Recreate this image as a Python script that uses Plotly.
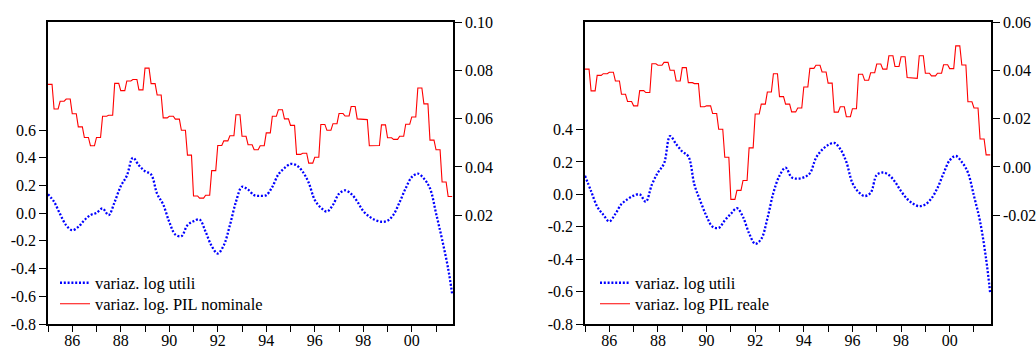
import pandas as pd
import plotly.graph_objects as go

# ---- data -------------------------------------------------------------
# quarterly GDP growth (repeated over the months of each quarter)
quarters = pd.period_range("1985Q1", "2001Q3", freq="Q")
# monthly profit growth, sampled every third month plus the last month
months = pd.period_range("1985-01", "2001-09", freq="M")
util_dates = list(months[::3]) + [months[-1]]

utili_nom = [0.137, 0.082, -0.007, -0.087, -0.123, -0.099, -0.05, -0.014, 0.002, 0.034,
             -0.014, 0.082, 0.195, 0.27, 0.40, 0.345, 0.303, 0.28, 0.14, 0.063,
             -0.063, -0.154, -0.166, -0.087, -0.058, -0.046, -0.135, -0.238, -0.291, -0.231,
             -0.087, 0.082, 0.19, 0.17, 0.13, 0.125, 0.13, 0.19, 0.28, 0.325,
             0.355, 0.345, 0.30, 0.22, 0.095, 0.04, 0.012, 0.06, 0.14, 0.165,
             0.14, 0.085, 0.015, -0.025, -0.05, -0.062, -0.055, -0.01, 0.08, 0.18,
             0.26, 0.285, 0.25, 0.18, 0.0, -0.19, -0.40, -0.585]

pil_nominale = [0.0742, 0.064, 0.0672, 0.0681, 0.062, 0.0566, 0.0522, 0.0488, 0.0522, 0.061,
                0.0614, 0.0746, 0.0716, 0.0756, 0.0762, 0.0719, 0.0809, 0.0745, 0.0698, 0.0603,
                0.061, 0.0598, 0.0552, 0.0449, 0.028, 0.0271, 0.0283, 0.0385, 0.0489, 0.0508,
                0.0529, 0.0616, 0.0527, 0.0492, 0.0471, 0.0488, 0.0541, 0.061, 0.0637, 0.0599,
                0.0572, 0.0452, 0.0457, 0.0416, 0.044, 0.0576, 0.0552, 0.0579, 0.0621, 0.0611,
                0.065, 0.0599, 0.0596, 0.0488, 0.0489, 0.0574, 0.0521, 0.0514, 0.0527, 0.0577,
                0.0607, 0.0727, 0.0661, 0.0511, 0.0471, 0.0338, 0.0278]

utili_real = [0.115, 0.02, -0.075, -0.125, -0.167, -0.12, -0.06, -0.03, -0.008, 0.0,
              -0.045, 0.06, 0.135, 0.19, 0.36, 0.31, 0.265, 0.235, 0.06, -0.043,
              -0.135, -0.2, -0.207, -0.16, -0.12, -0.085, -0.14, -0.24, -0.305, -0.275,
              -0.15, 0.01, 0.115, 0.165, 0.105, 0.097, 0.105, 0.13, 0.225, 0.275,
              0.305, 0.318, 0.28, 0.2, 0.07, 0.015, -0.01, 0.01, 0.12, 0.135,
              0.12, 0.078, 0.02, -0.028, -0.058, -0.073, -0.062, -0.025, 0.04, 0.13,
              0.21, 0.237, 0.2, 0.135, -0.01, -0.167, -0.4, -0.61]

pil_reale = [0.0405, 0.0315, 0.0379, 0.0386, 0.0392, 0.0356, 0.0301, 0.0271, 0.0253, 0.0316,
             0.0308, 0.0427, 0.0421, 0.0433, 0.040, 0.0356, 0.0411, 0.0349, 0.0345, 0.0249,
             0.0253, 0.0221, 0.0156, 0.004, -0.0134, -0.0097, -0.0056, 0.0079, 0.0219, 0.026,
             0.031, 0.0386, 0.0291, 0.026, 0.0228, 0.0244, 0.0331, 0.0408, 0.0421, 0.0393,
             0.0347, 0.0227, 0.0249, 0.0208, 0.0241, 0.0384, 0.0359, 0.039, 0.0426, 0.0405,
             0.046, 0.0416, 0.0456, 0.037, 0.0367, 0.046, 0.0388, 0.0377, 0.0388, 0.0423,
             0.0407, 0.0501, 0.0422, 0.027, 0.0244, 0.0116, 0.005]

left_ticks_1 = [-0.8, -0.6, -0.4, -0.2, 0.0, 0.2, 0.4, 0.6]
right_ticks_1 = [0.02, 0.04, 0.06, 0.08, 0.10]
left_ticks_2 = [-0.8, -0.6, -0.4, -0.2, 0.0, 0.2, 0.4]
right_ticks_2 = [-0.02, 0.00, 0.02, 0.04, 0.06]
years = list(range(1985, 2002))
year_labels = [f"{y % 100:02d}" if y % 2 == 0 else "" for y in years]


def decimal_year(p):
    return p.year + (p.month - 1) / 12


util_x = [decimal_year(p) for p in util_dates]

# each quarterly value is held for the three months of its quarter
step_x, step_nom, step_real = [], [], []
for q, vn, vr in zip(quarters, pil_nominale, pil_reale):
    t0 = decimal_year(q.asfreq("M", how="start"))
    step_x += [t0, t0 + 2 / 12]
    step_nom += [vn, vn]
    step_real += [vr, vr]

# ---- figure -----------------------------------------------------------
W, H = 1036, 349
FONT = dict(family="Liberation Serif", size=16, color="black")
BLUE = "#0000FF"
RED = "#FF0000"
DOTS = dict(color=BLUE, width=2.3, dash="2px,1.8px", shape="spline", smoothing=1.0)

fig = go.Figure()
fig.add_trace(go.Scatter(x=util_x, y=utili_nom, mode="lines", line=DOTS,
                         name="variaz. log utili", xaxis="x", yaxis="y", legend="legend"))
fig.add_trace(go.Scatter(x=step_x, y=step_nom, mode="lines", line=dict(color=RED, width=1.1),
                         name="variaz. log. PIL nominale", xaxis="x", yaxis="y2", legend="legend2"))
fig.add_trace(go.Scatter(x=util_x, y=utili_real, mode="lines", line=DOTS,
                         name="variaz. log utili", xaxis="x2", yaxis="y3", legend="legend3"))
fig.add_trace(go.Scatter(x=step_x, y=step_real, mode="lines", line=dict(color=RED, width=1.1),
                         name="variaz. log PIL reale", xaxis="x2", yaxis="y4", legend="legend4"))

y_dom = [1 - 324 / H, 1 - 22 / H]
common = dict(showgrid=False, zeroline=False, showline=True, linecolor="black", linewidth=1.5,
              ticks="outside", tickcolor="black", tickwidth=1, tickfont=FONT, automargin=False)


def xaxis(dom, anchor):
    return dict(common, domain=dom, anchor=anchor, range=[1985.0, 2001.7], mirror=True,
                tickvals=years, ticktext=year_labels, ticklen=6, ticklabelstandoff=-5)


def laxis(rng, ticks, anchor):
    return dict(common, domain=y_dom, anchor=anchor, range=rng, mirror=True, ticklen=7,
                tickvals=ticks, ticktext=[f"{v:.1f}" for v in ticks])


def raxis(rng, ticks, anchor, over):
    return dict(common, domain=y_dom, anchor=anchor, range=rng, side="right", overlaying=over,
                ticklen=7, tickvals=ticks, ticktext=[f"{v:.2f}" for v in ticks])


legend_style = dict(bgcolor="rgba(0,0,0,0)", borderwidth=0,
                    font=dict(family="Liberation Serif", size=16.5, color="black"),
                    xanchor="left", yanchor="middle")
ROW1, ROW2 = 1 - 283 / H, 1 - 304 / H

fig.update_layout(
    width=W, height=H, margin=dict(l=0, r=0, t=0, b=0, autoexpand=False),
    paper_bgcolor="white", plot_bgcolor="white",
    xaxis=xaxis([48 / W, 453 / W], "y"),
    yaxis=laxis([-0.8, 1.38], left_ticks_1, "x"),
    yaxis2=raxis([-0.025, 0.10], right_ticks_1, "x", "y"),
    xaxis2=xaxis([585 / W, 991 / W], "y3"),
    yaxis3=laxis([-0.8, 1.064], left_ticks_2, "x2"),
    yaxis4=raxis([-0.065, 0.06], right_ticks_2, "x2", "y3"),
    legend=dict(legend_style, x=55 / W, y=ROW1),
    legend2=dict(legend_style, x=55 / W, y=ROW2),
    legend3=dict(legend_style, x=595 / W, y=ROW1),
    legend4=dict(legend_style, x=595 / W, y=ROW2),
    showlegend=True,
)

fig.write_html("out.html")
